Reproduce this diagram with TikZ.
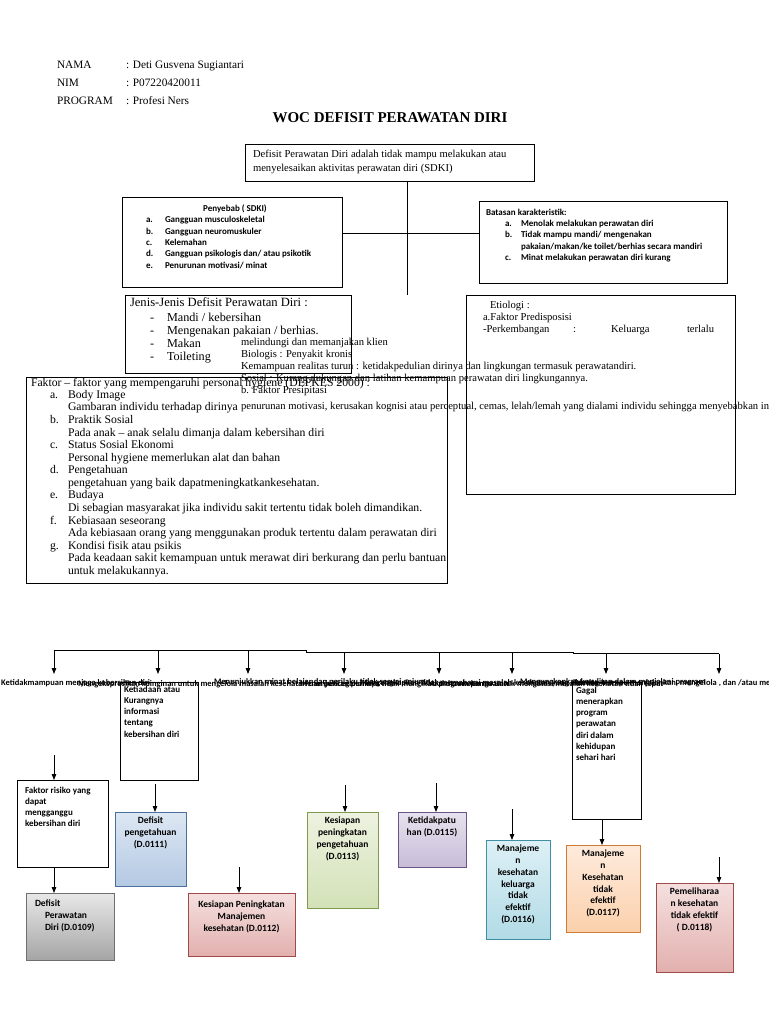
\documentclass[tikz,border=0pt]{standalone}
\usepackage{fontspec}
\setmainfont{Liberation Serif}
\newfontfamily\calfont{Carlito}
\usetikzlibrary{arrows.meta,shadows}
\definecolor{gyT}{HTML}{E8E8E8}\definecolor{gyB}{HTML}{A5A5A5}\definecolor{gyD}{HTML}{6F6F6F}
\definecolor{blT}{HTML}{DDE7F3}\definecolor{blB}{HTML}{B4C9E3}\definecolor{blD}{HTML}{4A6F9E}
\definecolor{pkT}{HTML}{F4E0DF}\definecolor{pkB}{HTML}{E2B0AE}\definecolor{pkD}{HTML}{9E4A48}
\definecolor{grT}{HTML}{EDF3E0}\definecolor{grB}{HTML}{D3E1B7}\definecolor{grD}{HTML}{7F9A4A}
\definecolor{puT}{HTML}{E7E2EE}\definecolor{puB}{HTML}{C8BCD8}\definecolor{puD}{HTML}{6A5488}
\definecolor{aqT}{HTML}{DDF0F5}\definecolor{aqB}{HTML}{B2DBE6}\definecolor{aqD}{HTML}{3F8FA6}
\definecolor{orT}{HTML}{FEEBDC}\definecolor{orB}{HTML}{FBD0AC}\definecolor{orD}{HTML}{D07A35}
\begin{document}
\begin{tikzpicture}[x=1pt,y=-1pt,
  every node/.style={inner sep=0pt, outer sep=0pt},
  one/.style={anchor=west, text height=0.7em, text depth=0.22em},
  hdr/.style={one, font=\fontsize{11.3}{13}\selectfont},
  ser/.style={one, font=\fontsize{11.7}{13}\selectfont},
  serj/.style={one, font=\fontsize{12.2}{14}\selectfont},
  sers/.style={one, font=\fontsize{10.6}{12}\selectfont},
  sans/.style={one, font=\calfont\bfseries\fontsize{9}{11}\selectfont},
  garb/.style={one, font=\calfont\bfseries\fontsize{8.5}{10}\selectfont},
  wtxt/.style={anchor=north west, align=left, font=\calfont\bfseries\fontsize{9}{11.2}\selectfont},
  frame/.style={draw, line width=0.9pt, anchor=north west},
  ln/.style={line width=0.8pt},
  arr/.style={line width=0.8pt, -{Triangle[length=6pt,width=4.5pt]}},
  cbox/.style n args={3}{anchor=north west, draw=#3, line width=1pt, top color=#1, bottom color=#2,
     drop shadow={shadow xshift=1.2pt, shadow yshift=-1.2pt, opacity=0.55, fill=#3!80!black}},
  btxt/.style={anchor=north, align=center, font=\calfont\bfseries\fontsize{9.5}{11.8}\selectfont},
]
\useasboundingbox (0,0) rectangle (768,1024);
\fill[white] (0,0) rectangle (768,1024);

% header
\node[hdr] (hn) at (57,66) {NAMA};
\node[hdr] (hnv) at (126,66) {: Deti Gusvena Sugiantari};
\node[hdr] (hi) at (57,84) {NIM};
\node[hdr] (hiv) at (126,84) {: P07220420011};
\node[hdr] (hp) at (57,102) {PROGRAM};
\node[hdr] (hpv) at (126,102) {: Profesi Ners};
\node[font=\bfseries\fontsize{15}{17}\selectfont] (title) at (390,118) {WOC DEFISIT PERAWATAN DIRI};

% SDKI box
\node[frame, minimum width=289, minimum height=37] (sdki) at (245,144) {};
\node[sers] (sd1) at (253,155) {Defisit Perawatan Diri adalah tidak mampu melakukan atau};
\node[sers] (sd2) at (253,169) {menyelesaikan aktivitas perawatan diri (SDKI)};
\coordinate (vend) at (407,295);
\draw[ln] (sdki.south -| vend) -- (vend);

% Penyebab
\node[frame, minimum width=220, minimum height=90] (pen) at (122,197) {};
\node[sans, anchor=center] (pt) at (235,209) {Penyebab ( SDKI)};
\node[sans] (pa) at (146,220) {a.}; \node[sans] (pat) at (165,220) {Gangguan musculoskeletal};
\node[sans] (pb) at (146,232) {b.}; \node[sans] (pbt) at (165,232) {Gangguan neuromuskuler};
\node[sans] (pc) at (146,243) {c.}; \node[sans] (pct) at (165,243) {Kelemahan};
\node[sans] (pd) at (146,254) {d.}; \node[sans] (pdt) at (165,254) {Gangguan psikologis dan/ atau psikotik};
\node[sans] (pe) at (146,266) {e.}; \node[sans] (pet) at (165,266) {Penurunan motivasi/ minat};

% Batasan
\node[frame, minimum width=248, minimum height=82] (bat) at (479,201) {};
\node[sans] (bt) at (486,213) {Batasan karakteristik:};
\node[sans] (ba) at (505,224) {a.}; \node[sans] (bat1) at (521,224) {Menolak melakukan perawatan diri};
\node[sans] (bb) at (505,235.5) {b.}; \node[sans] (bbt) at (521,235.5) {Tidak mampu mandi/ mengenakan};
\node[sans] (bbt2) at (521,247) {pakaian/makan/ke toilet/berhias secara mandiri};
\node[sans] (bc) at (505,258.5) {c.}; \node[sans] (bct) at (521,258.5) {Minat melakukan perawatan diri kurang};
\coordinate (hl) at (407,233);
\draw[ln] (pen.east |- hl) -- (bat.west |- hl);

% Jenis
\node[frame, minimum width=226, minimum height=78] (jen) at (125,295) {};
\node[serj, font=\fontsize{12.6}{14}\selectfont] (jt) at (130,304) {Jenis-Jenis Defisit Perawatan Diri :};
\node[serj] (j1d) at (150,319) {-}; \node[serj] (j1) at (167,319) {Mandi / kebersihan};
\node[serj] (j2d) at (150,332) {-}; \node[serj] (j2) at (167,332) {Mengenakan pakaian / berhias.};
\node[serj] (j3d) at (150,345) {-}; \node[serj] (j3) at (167,345) {Makan};
\node[serj] (j4d) at (150,358) {-}; \node[serj] (j4) at (167,358) {Toileting};

% Etiologi
\node[frame, minimum width=269, minimum height=199] (eti) at (466,295) {};
\node[sers] (e1) at (490,306) {Etiologi :};
\node[sers] (e2) at (483,318) {a.Faktor Predisposisi};
\node[sers] (e3) at (483,330) {-Perkembangan};
\node[sers] (e3b) at (573,330) {:};
\node[sers] (e3c) at (611,330) {Keluarga};
\node[sers] (e3d) at (687,330) {terlalu};
\node[sers] (e4) at (241,343) {melindungi dan memanjakan klien};
\node[sers] (e5) at (241,355) {Biologis : Penyakit kronis};
\node[sers] (e6) at (241,367) {Kemampuan realitas turun : ketidakpedulian dirinya dan lingkungan termasuk perawatandiri.};
\node[sers] (e7) at (241,379) {Sosial : Kurang dukungan dan latihan kemampuan perawatan diri lingkungannya.};
\node[sers] (e8) at (241,391) {b. Faktor Presipitasi};
\node[sers] (e9) at (241,407) {penurunan motivasi, kerusakan kognisi atau perceptual, cemas, lelah/lemah yang dialami individu sehingga menyebabkan individu kurang mampu};

% Faktor
\node[frame, minimum width=421, minimum height=206] (fak) at (26,377) {};
\node[ser] (ft) at (31,384) {Faktor -- faktor yang mempengaruhi personal hygiene (DEPKES 2000) :};
\node[ser] (fa) at (50,396) {a.}; \node[ser] (fat) at (68,396) {Body Image};
\node[ser] (fa2) at (68,408.5) {Gambaran individu terhadap dirinya};
\node[ser] (fb) at (50,421) {b.}; \node[ser] (fbt) at (68,421) {Praktik Sosial};
\node[ser] (fb2) at (68,433.6) {Pada anak -- anak selalu dimanja dalam kebersihan diri};
\node[ser] (fc) at (50,446) {c.}; \node[ser] (fct) at (68,446) {Status Sosial Ekonomi};
\node[ser] (fc2) at (68,458.7) {Personal hygiene memerlukan alat dan bahan};
\node[ser] (fd) at (50,471) {d.}; \node[ser] (fdt) at (68,471) {Pengetahuan};
\node[ser] (fd2) at (68,483.9) {pengetahuan yang baik dapatmeningkatkankesehatan.};
\node[ser] (fe) at (50,496.5) {e.}; \node[ser] (fet) at (68,496.5) {Budaya};
\node[ser] (fe2) at (68,509) {Di sebagian masyarakat jika individu sakit tertentu tidak boleh dimandikan.};
\node[ser] (ff) at (50,521.6) {f.}; \node[ser] (fft) at (68,521.6) {Kebiasaan seseorang};
\node[ser] (ff2) at (68,534.2) {Ada kebiasaan orang yang menggunakan produk tertentu dalam perawatan diri};
\node[ser] (fg) at (50,546.8) {g.}; \node[ser] (fgt) at (68,546.8) {Kondisi fisik atau psikis};
\node[ser] (fg2) at (68,559.4) {Pada keadaan sakit kemampuan untuk merawat diri berkurang dan perlu bantuan};
\node[ser] (fg3) at (68,572) {untuk melakukannya.};

% bus and arrows
\coordinate (b1) at (54,650); \coordinate (s1) at (306,650); \coordinate (s1b) at (306,652);
\coordinate (s2) at (573,652); \coordinate (s2b) at (573,653.5); \coordinate (b8) at (719,653.5);
\draw[ln] (b1) -- (s1) -- (s1b) -- (s2) -- (s2b) -- (b8);
\foreach \i/\x/\y in {1/54/650,2/158/650,3/248/650,4/344/652,5/439/652,6/512/652,7/606/653.5,8/719/653.5}{
  \coordinate (t\i) at (\x,\y);
  \coordinate (h\i) at (\x,674);
  \draw[arr] (t\i) -- (h\i);
}

% overlapping labels under the arrows
\node[garb, anchor=east] (g1) at (150,683) {Ketidakmampuan menjaga kebersihan diri};
\node[garb] (g2) at (78,684.5) {Mengekspresikan keinginan untuk mengelola masalah kesehatan dan pencegahannya};
\node[garb] (g3) at (214,682.5) {Menunjukkan minat belajar dan perilaku tidak sesuai anjuran};
\node[garb] (g4) at (300,684) {Menunjukkan perilaku tidak mengikuti program perawatan};
\node[garb] (g5) at (360,683) {Mengungkapkan tidak memahami masalah kesehatan yang diderita};
\node[garb] (g6) at (430,684) {Aktivitas keluarga untuk mengatasi masalah kesehatan tidak tepat};
\node[garb] (g7) at (520,682.5) {Mengungkapkan kesulitan dalam menjalani program};
\node[garb] (g8) at (575,683) {kurang mampu menjalankan, mengelola , dan /atau menemukan bantuan};

% white boxes
\node[frame, minimum width=78, minimum height=98] (kur) at (120,682) {};
\node[wtxt] (kurt) at (124,686) {Ketiadaan atau\\Kurangnya\\informasi\\tentang\\kebersihan diri};
\node[frame, minimum width=69, minimum height=137] (gag) at (572,682) {};
\node[wtxt] (gagt) at (576,687) {Gagal\\menerapkan\\program\\perawatan\\diri dalam\\kehidupan\\sehari hari};
\node[frame, minimum width=91, minimum height=87] (fr) at (17,780) {};
\node[wtxt] (frt) at (25,787) {Faktor risiko yang\\dapat\\mengganggu\\kebersihan diri};

% coloured boxes
\node[cbox={gyT}{gyB}{gyD}, minimum width=88, minimum height=67] (d109) at (26,893) {};
\node[btxt, anchor=north west, align=left] (d109t) at (35,900) {Defisit\\\hspace*{10pt}Perawatan\\\hspace*{10pt}Diri (D.0109)};
\node[cbox={blT}{blB}{blD}, minimum width=71, minimum height=74] (d111) at (115,812) {};
\node[btxt] (d111t) at ([yshift=-5pt]d111.north) {Defisit\\pengetahuan\\(D.0111)};
\node[cbox={pkT}{pkB}{pkD}, minimum width=107, minimum height=63] (d112) at (188,893) {};
\node[btxt] (d112t) at ([yshift=-8pt]d112.north) {Kesiapan Peningkatan\\Manajemen\\kesehatan (D.0112)};
\node[cbox={grT}{grB}{grD}, minimum width=71, minimum height=96] (d113) at (307,812) {};
\node[btxt] (d113t) at ([yshift=-5pt]d113.north) {Kesiapan\\peningkatan\\pengetahuan\\(D.0113)};
\node[cbox={puT}{puB}{puD}, minimum width=68, minimum height=55] (d115) at (398,812) {};
\node[btxt] (d115t) at ([yshift=-5pt]d115.north) {Ketidakpatu\\han (D.0115)};
\node[cbox={aqT}{aqB}{aqD}, minimum width=64, minimum height=99] (d116) at (486,840) {};
\node[btxt] (d116t) at ([yshift=-5pt]d116.north) {Manajeme\\n\\kesehatan\\keluarga\\tidak\\efektif\\(D.0116)};
\node[cbox={orT}{orB}{orD}, minimum width=74, minimum height=87] (d117) at (566,845) {};
\node[btxt] (d117t) at ([yshift=-5pt]d117.north) {Manajeme\\n\\Kesehatan\\tidak\\efektif\\(D.0117)};
\node[cbox={pkT}{pkB}{pkD}, minimum width=77, minimum height=89] (d118) at (656,883) {};
\node[btxt] (d118t) at ([yshift=-5pt]d118.north) {Pemeliharaa\\n kesehatan\\tidak efektif\\( D.0118)};

% lower arrows
\coordinate (fr0) at (54,755);
\draw[arr] (fr0) -- (fr0 |- fr.north);
\draw[arr] (fr.south -| fr0) -- (fr0 |- d109.north);
\coordinate (k0) at (155,784);
\draw[arr] (k0) -- (k0 |- d111.north);
\coordinate (p0) at (239,867);
\draw[arr] (p0) -- (p0 |- d112.north);
\coordinate (g0) at (345,785);
\draw[arr] (g0) -- (g0 |- d113.north);
\coordinate (u0) at (436,783);
\draw[arr] (u0) -- (u0 |- d115.north);
\coordinate (a0) at (512,809);
\draw[arr] (a0) -- (a0 |- d116.north);
\coordinate (o0) at (602,800);
\draw[arr] (gag.south -| o0) -- (o0 |- d117.north);
\coordinate (q0) at (719,857);
\draw[arr] (q0) -- (q0 |- d118.north);
\end{tikzpicture}
\end{document}
